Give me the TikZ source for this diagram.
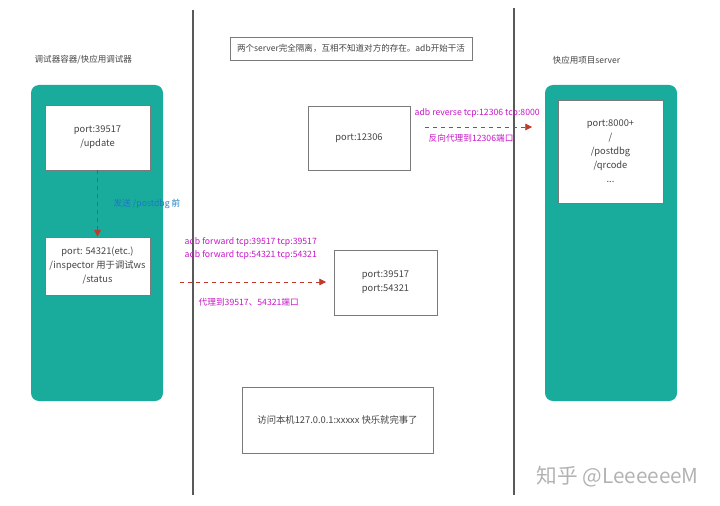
\documentclass[tikz,border=0pt]{standalone}
\usepackage{fontspec}
\setmainfont{Noto Sans CJK SC}
\usetikzlibrary{arrows.meta}
\definecolor{appteal}{HTML}{19AC9C}
\definecolor{boxgray}{HTML}{7A7A7A}
\definecolor{txtgray}{HTML}{444444}
\definecolor{arrowred}{HTML}{C0392B}
\definecolor{cmdpink}{HTML}{C814C8}
\definecolor{noteblue}{HTML}{1A78C2}
\begin{document}
\begin{tikzpicture}[x=0.75pt,y=-0.75pt,
  font=\fontsize{7}{10.5}\selectfont,
  divider/.style={draw=black!65, line width=0.8pt},
  panel/.style={fill=appteal, rounded corners=6pt, minimum width=99pt, minimum height=237pt},
  box/.style={draw=boxgray, fill=white, line width=0.6pt, align=center, text=txtgray, inner sep=0pt},
  title/.style={anchor=west, text=txtgray, font=\fontsize{6.4}{8}\selectfont},
  cmd/.style={anchor=west, text=cmdpink, font=\fontsize{6.5}{8}\selectfont},
  proxy/.style={draw=arrowred, dashed, line width=0.6pt, -{Triangle[length=5pt,width=5pt]}}]
  \useasboundingbox (0,0) rectangle (720,506);

  % the two borders between the worlds
  \coordinate (ltop) at (193,10);
  \coordinate (lbot) at (193,495);
  \coordinate (rtop) at (514,8);
  \coordinate (rbot) at (514,495);
  \draw[divider] (ltop) -- (lbot);
  \draw[divider] (rtop) -- (rbot);

  % debugger side
  \node[title] (dbgtitle) at (30,60) {调试器容器/快应用调试器};
  \node[panel] (dbgpanel) at (97,243) {};
  \node[box, minimum width=78.75pt, minimum height=48.75pt] (updbox) at (97.5,137.5)
    {port:39517\\/update};
  \node[box, minimum width=78.75pt, minimum height=43.5pt] (insbox) at (97.5,266)
    {port: 54321(etc.)\\/inspector 用于调试ws\\/status};
  \draw[proxy] (updbox) -- (insbox);
  \node[anchor=west, text=noteblue, font=\fontsize{6.5}{8}\selectfont] (sendnote) at (109,204)
    {发送 /postdbg 前};

  % middle: the machine
  \node[box, minimum width=181.5pt, minimum height=17.25pt, font=\fontsize{6.4}{8}\selectfont]
    (notebox) at (351,48.5) {两个server完全隔离，互相不知道对方的存在。adb开始干活};
  \node[box, minimum width=76.5pt, minimum height=48pt] (revbox) at (359,138) {port:12306};
  \node[box, minimum width=77.25pt, minimum height=48.75pt] (fwdbox) at (385.5,282.5)
    {port:39517\\port:54321};
  \node[box, minimum width=143.25pt, minimum height=49.5pt] (localbox) at (337.5,420)
    {访问本机127.0.0.1:xxxxx 快乐就完事了};

  % reverse proxy
  \node[cmd] (revcmd) at (410,113) {adb reverse tcp:12306 tcp:8000};
  \coordinate (revfrom) at (425,127);
  \coordinate (revto) at (532,127);
  \draw[proxy] (revfrom) -- (revto);
  \node[cmd] (revnote) at (424,138) {反向代理到12306端口};

  % forward proxy
  \node[cmd] (fwdcmda) at (180,242) {adb forward tcp:39517 tcp:39517};
  \node[cmd] (fwdcmdb) at (180,255) {adb forward tcp:54321 tcp:54321};
  \coordinate (fwdfrom) at (180,282);
  \coordinate (fwdto) at (326,282);
  \draw[proxy] (fwdfrom) -- (fwdto);
  \node[cmd] (fwdnote) at (194,302) {代理到39517、54321端口};

  % project server side
  \node[title] (srvtitle) at (548,60) {快应用项目server};
  \node[panel] (srvpanel) at (611,243) {};
  \node[box, minimum width=78.75pt, minimum height=77.25pt] (srvbox) at (610.5,151.5)
    {port:8000+\\/\\/postdbg\\/qrcode\\...};

  \node[anchor=west, text=black!30, font=\fontsize{15.5}{18}\selectfont] (mark) at (532,477)
    {知乎 @LeeeeeeM};
\end{tikzpicture}
\end{document}
